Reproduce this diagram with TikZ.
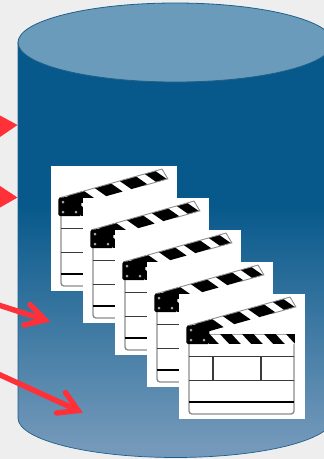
\documentclass[tikz,border=0pt]{standalone}
\definecolor{bgc}{HTML}{EEEEEE}
\definecolor{cyldark}{HTML}{07598B}
\definecolor{cyllow}{HTML}{7499BA}
\definecolor{cyltop}{HTML}{6B9BBB}
\definecolor{cyledge}{HTML}{1F5F8B}
\definecolor{redarrow}{HTML}{FF3038}
\definecolor{framegray}{HTML}{8C8C8C}
\definecolor{linedark}{HTML}{3A3A3A}
\tikzset{
  redline/.style={draw=redarrow,line width=5.4pt,line cap=round,miter limit=10},
  redhead/.style={fill=redarrow,draw=none},
  rulerline/.style={draw=linedark,line width=1.5pt},
  clapper/.pic={
    \fill[white] (0,0) rectangle (126,125);
    % body
    \draw[framegray,line width=1.4pt,rounded corners=3pt] (10,48) -- (10,120) -- (115,120) -- (115,48);
    \draw[rulerline] (10,62.7) -- (115,62.7);
    \draw[rulerline] (10,86.7) -- (115,86.7);
    \draw[draw=black,line width=1.4pt] (10,108) -- (115,108);
    \draw[rulerline] (34,62.7) -- (34,86.7);
    \draw[rulerline] (82,62.7) -- (82,86.7);
    % lower striped bar
    \fill[black] (30,40.3) rectangle (115.5,50);
    \foreach \sx in {31,53,75,97}
      \fill[white] (\sx,40.3) -- (\sx+10,40.3) -- (\sx+19,50) -- (\sx+9,50) -- cycle;
    % arm
    \begin{scope}[shift={(8,32)},rotate=15.7]
      \fill[white] (0,0) -- (107,0) -- (110,11) -- (20,11) -- cycle;
      \begin{scope}
        \clip (0,0) -- (107,0) -- (110,11) -- (20,11) -- cycle;
        \foreach \sx/\sw in {8/18,37/17,63/17,89/11}
          \fill[black] (\sx,0) -- (\sx+\sw,0) -- (\sx+\sw+9,11) -- (\sx+9,11) -- cycle;
      \end{scope}
      \draw[framegray,line width=.9pt] (0,0) -- (107,0) -- (110,11) -- (85,11);
    \end{scope}
    % hinge block
    \fill[black,rounded corners=1.5pt] (7.3,32) -- (30.3,29) -- (30.3,50) -- (7.3,50) -- cycle;
    \foreach \hx/\hy in {12/36,12/46,25/46}
      \fill[gray!70] (\hx,\hy) circle (1.5);
  }
}
\begin{document}
\begin{tikzpicture}[x=1pt,y=-1pt]
  \useasboundingbox (0,0) rectangle (324,459);
  \fill[bgc] (0,0) rectangle (324,459);
  % cylinder body
  \begin{scope}
    \clip (0,0) rectangle (324,459);
    \begin{scope}
      \clip (18,42) -- (18,418) arc[start angle=180,end angle=360,x radius=157.5,y radius=-39.5] -- (333,42) -- cycle;
      \fill[cyldark] (0,0) rectangle (340,206);
      \shade[top color=cyldark,bottom color=cyllow,shading angle=0] (0,205.5) rectangle (340,446);
      \fill[cyllow] (0,445.5) rectangle (340,459);
    \end{scope}
    \draw[cyledge,line width=.7pt] (18,42) -- (18,418) arc[start angle=180,end angle=360,x radius=157.5,y radius=-39.5] -- (333,42);
    \filldraw[fill=cyltop,draw=cyledge,line width=.8pt] (175.5,42.5) ellipse[x radius=157.5,y radius=39.5];
  \end{scope}
  % clapper cards
  \pic at (51,166) {clapper};
  \pic at (83,198) {clapper};
  \pic at (115,230) {clapper};
  \pic at (147,262) {clapper};
  \pic at (179,294) {clapper};
  % red arrows
  \fill[redhead] (0,115.5) -- (17.5,125) -- (0,137) -- cycle;
  \fill[redhead] (0,186) -- (17.5,197.5) -- (0,207.5) -- cycle;
  \coordinate (a3s) at (-3,304.5);
  \coordinate (a3t) at (45,320);
  \coordinate (a3u) at (30,304.5);
  \coordinate (a3v) at (24,325);
  \draw[redline] (a3s) -- (a3t);
  \draw[redline] (a3u) -- (a3t) -- (a3v);
  \coordinate (a4s) at (-3,373.5);
  \coordinate (a4t) at (78,410.5);
  \coordinate (a4u) at (65.5,392.5);
  \coordinate (a4v) at (56.5,413);
  \draw[redline] (a4s) -- (a4t);
  \draw[redline] (a4u) -- (a4t) -- (a4v);
\end{tikzpicture}
\end{document}
